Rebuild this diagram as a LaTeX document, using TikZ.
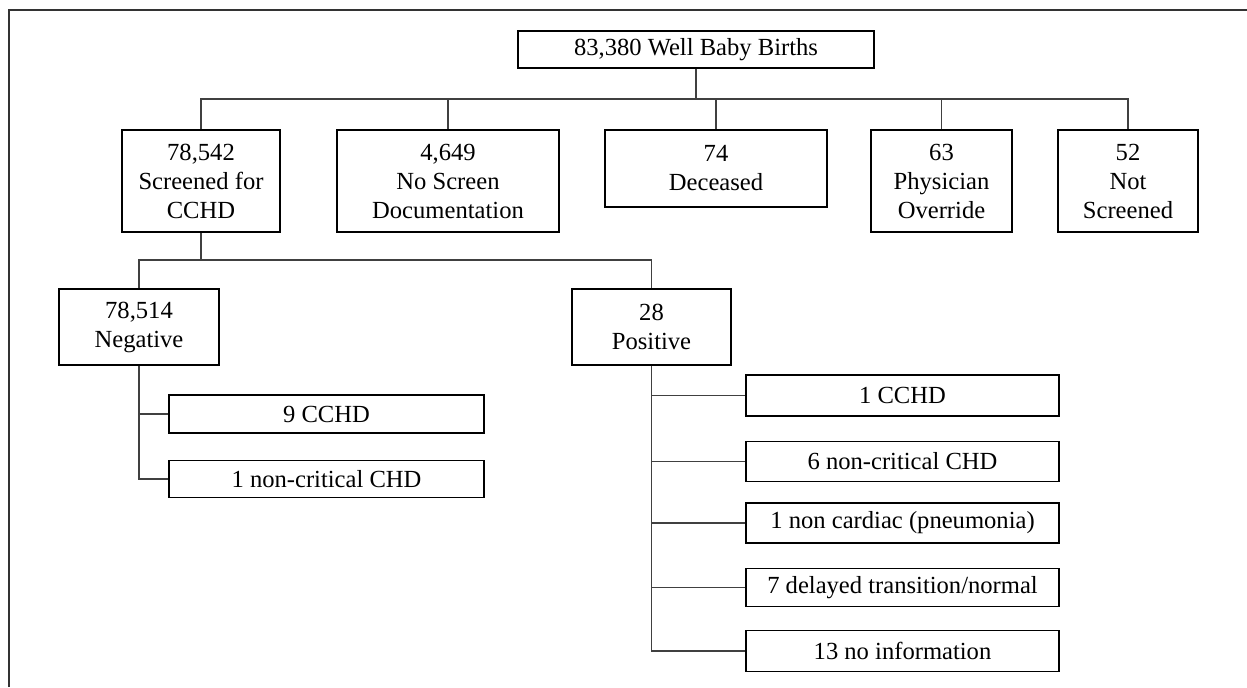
\documentclass[tikz,border=0pt]{standalone}
\usepackage{fontspec}
\setmainfont{Liberation Serif}
\usepackage{tikz}

\begin{document}
\begin{tikzpicture}[x=0.02cm, y=-0.02cm,
        box/.style={draw, line width=1pt, align=center, inner sep=0pt, font=\fontsize{14}{16.5}\selectfont},
        link/.style={draw=black!75, line width=0.6pt},
        frame/.style={draw=black!80, line width=1pt}]
        \useasboundingbox (0,0) rectangle (1247,687);
        \draw[frame] (9,687) -- (9,10) -- (1247,10);

        % first level
        \node[box, minimum width=7.12cm, minimum height=0.74cm] (birth) at (696,49.5) {83,380 Well Baby Births};
        \node[box, minimum width=3.16cm, minimum height=2.04cm] (scr) at (201,181) {78,542\\Screened for\\CCHD};
        \node[box, minimum width=4.44cm, minimum height=2.04cm] (nodoc) at (448,181) {4,649\\No Screen\\Documentation};
        \node[box, minimum width=4.44cm, minimum height=1.54cm] (dec) at (716,168.5) {74\\Deceased};
        \node[box, minimum width=2.82cm, minimum height=2.04cm] (phys) at (941.5,181) {63\\Physician\\Override};
        \node[box, minimum width=2.80cm, minimum height=2.04cm] (notscr) at (1128,181) {52\\Not\\Screened};

        \coordinate (bus1) at (696,99);
        \draw[link] (birth.south) -- (bus1);
        \draw[link] (scr.north) -- (scr.north |- bus1) -| (notscr.north);
        \foreach \n in {nodoc,dec,phys}
            \draw[link] (\n.north) -- (\n.north |- bus1);

        % screen result
        \node[box, minimum width=3.2cm, minimum height=1.52cm] (neg) at (139,327) {78,514\\Negative};
        \node[box, minimum width=3.18cm, minimum height=1.52cm] (pos) at (651.5,327) {28\\Positive};

        \coordinate (bus2) at (201,260);
        \draw[link] (scr.south) -- (bus2);
        \draw[link] (neg.north) |- (bus2) -| (pos.north);

        % negative outcomes
        \node[box, minimum width=6.3cm, minimum height=0.76cm] (nega) at (326.5,414) {9 CCHD};
        \node[box, minimum width=6.3cm, minimum height=0.74cm] (negb) at (326.5,479) {1 non-critical CHD};

        \draw[link] (neg.south) |- (negb.west);
        \draw[link] (neg.south |- nega.west) -- (nega.west);

        % positive outcomes
        \node[box, minimum width=6.26cm, minimum height=0.82cm] (posa) at (902.5,395.5) {1 CCHD};
        \node[box, minimum width=6.26cm, minimum height=0.8cm] (posb) at (902.5,461.5) {6 non-critical CHD};
        \node[box, minimum width=6.26cm, minimum height=0.8cm] (posc) at (902.5,523) {1 non cardiac (pneumonia)};
        \node[box, minimum width=6.26cm, minimum height=0.76cm] (posd) at (902.5,587.5) {7 delayed transition/normal};
        \node[box, minimum width=6.26cm, minimum height=0.82cm] (pose) at (902.5,651) {13 no information};

        \draw[link] (pos.south) |- (pose.west);
        \foreach \n in {posa,posb,posc,posd}
            \draw[link] (pos.south |- \n.west) -- (\n.west);
\end{tikzpicture}
\end{document}
